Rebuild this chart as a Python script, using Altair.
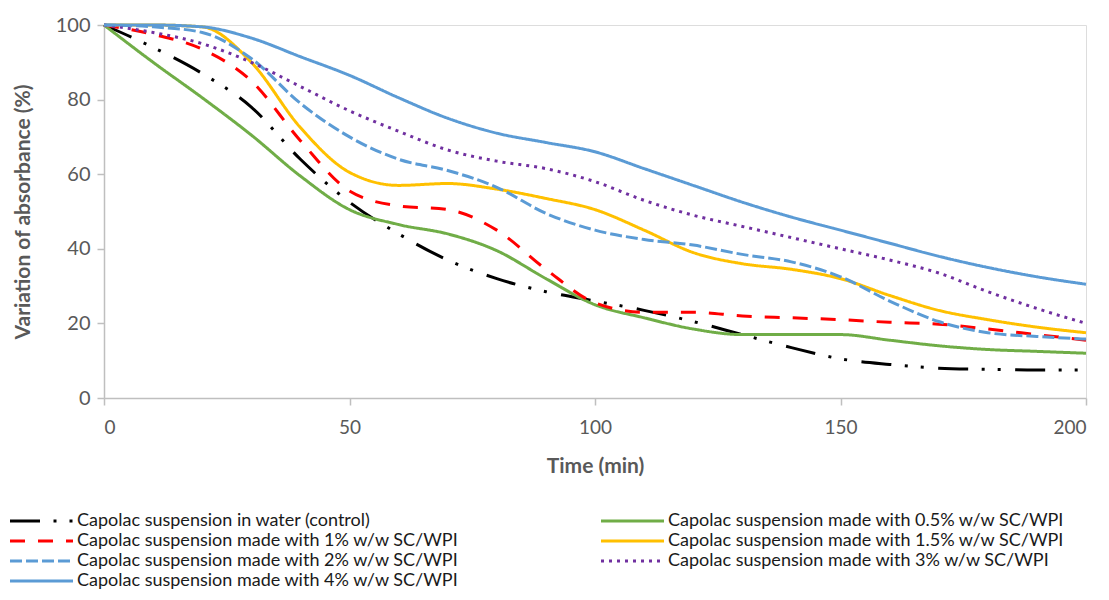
import altair as alt
import pandas as pd

time_min = [0, 10, 20, 30, 40, 50, 60, 70, 80, 90, 100, 110, 120, 130, 140, 150, 160, 170, 180, 190, 200]

control = [100, 94, 87, 78, 64, 52.5, 44, 37, 32, 28.5, 26, 23.5, 20.5, 17, 13.5, 10.5, 9, 8, 7.7, 7.5, 7.5]
sc_05 = [100, 90, 80.5, 70.5, 59.5, 50.5, 46.5, 44, 39.5, 32, 25, 21.5, 18.5, 17, 17, 17, 15.5, 14, 13, 12.5, 12]
sc_1 = [100, 97.5, 93.5, 85, 69, 55.5, 51.5, 50.5, 45, 34.5, 25.5, 23, 23, 22, 21.5, 21, 20.3, 19.8, 18.5, 17, 15.5]
sc_15 = [100, 100, 99.5, 90, 72.5, 60.5, 57, 57.5, 56, 53.5, 50.5, 45, 39, 36, 34.5, 32, 27.5, 23.5, 21, 19, 17.5]
sc_2 = [100, 99.5, 98, 91, 79, 70, 64, 61, 56.5, 49.5, 45, 42.5, 41, 38.5, 36.5, 32.5, 26, 20.5, 17.5, 16.5, 15.8]
sc_3 = [100, 98, 95, 90, 83.5, 77, 71.5, 66.5, 63.5, 61.5, 58, 53, 49, 46, 43, 40, 37, 33.5, 28.5, 24, 20]
sc_4 = [100, 100, 99.5, 96.5, 91.5, 86.5, 80.5, 75, 71, 68.5, 66, 61.5, 57, 52.5, 48.5, 45, 41.5, 38, 35, 32.5, 30.5]

series_names = [
    "Capolac suspension in water (control)",
    "Capolac suspension made with 0.5% w/w SC/WPI",
    "Capolac suspension made with 1% w/w SC/WPI",
    "Capolac suspension made with 1.5% w/w SC/WPI",
    "Capolac suspension made with 2% w/w SC/WPI",
    "Capolac suspension made with 3% w/w SC/WPI",
    "Capolac suspension made with 4% w/w SC/WPI",
]
series_values = [control, sc_05, sc_1, sc_15, sc_2, sc_3, sc_4]
colors = ["#000000", "#70AD47", "#FF0000", "#FFC000", "#5B9BD5", "#7030A0", "#5B9BD5"]
dashes = [[30, 13.5, 3, 13, 3, 14.5], [1, 0], [15, 13], [1, 0], [12, 4], [3, 5], [1, 0]]

rows = []
for order, (name, vals) in enumerate(zip(series_names, series_values)):
    for t, v in zip(time_min, vals):
        rows.append({"Series": name, "Time": t, "Value": v, "order": order})
df = pd.DataFrame(rows)

FONT = "Lato"

chart = alt.Chart(df).mark_line(
    strokeWidth=3, interpolate="monotone"
).encode(
    x=alt.X("Time:Q", scale=alt.Scale(domain=[0, 200], nice=False),
            axis=alt.Axis(title="Time (min)", values=[0, 50, 100, 150, 200],
                          grid=False, domain=True, domainColor="#BFBFBF", domainWidth=1.5,
                          ticks=True, tickColor="#BFBFBF", tickSize=7, tickWidth=1.5,
                          labelPadding=13, labelFontSize=19, labelColor="#595959",
                          labelFont=FONT, titleFont=FONT, titleFontSize=21,
                          titleFontWeight="bold", titleColor="#595959", titlePadding=18)),
    y=alt.Y("Value:Q", scale=alt.Scale(domain=[0, 100], nice=False),
            axis=alt.Axis(title="Variation of absorbance (%)", values=[0, 20, 40, 60, 80, 100],
                          grid=False, domain=True, domainColor="#BFBFBF", domainWidth=1.5,
                          ticks=True, tickColor="#BFBFBF", tickSize=7, tickWidth=1.5,
                          labelPadding=7, labelFontSize=20, labelColor="#595959",
                          labelFont=FONT, titleFont=FONT, titleFontSize=21,
                          titleFontWeight="bold", titleColor="#595959", titlePadding=22)),
    color=alt.Color("Series:N", scale=alt.Scale(domain=series_names, range=colors),
                    legend=alt.Legend(title=None, orient="none", legendX=-96, legendY=487,
                                      direction="horizontal",
                                      columns=2, columnPadding=136, rowPadding=2,
                                      symbolType="M-1,0H8", symbolSize=196,
                                      symbolStrokeWidth=3, labelOffset=51,
                                      labelFont=FONT, labelFontSize=18, labelColor="#1a1a1a",
                                      labelLimit=600)),
    strokeDash=alt.StrokeDash("Series:N", scale=alt.Scale(domain=series_names, range=dashes),
                              legend=None),
    order="order:Q",
    detail="Series:N",
).properties(
    width=982, height=373,
    padding={"left": 0, "top": 7, "right": 0, "bottom": 0},
).configure_view(
    stroke="#D9D9D9", strokeWidth=1.5
).configure(background="white")

chart.save("out.html", embed_options={"renderer": "svg", "actions": False})
